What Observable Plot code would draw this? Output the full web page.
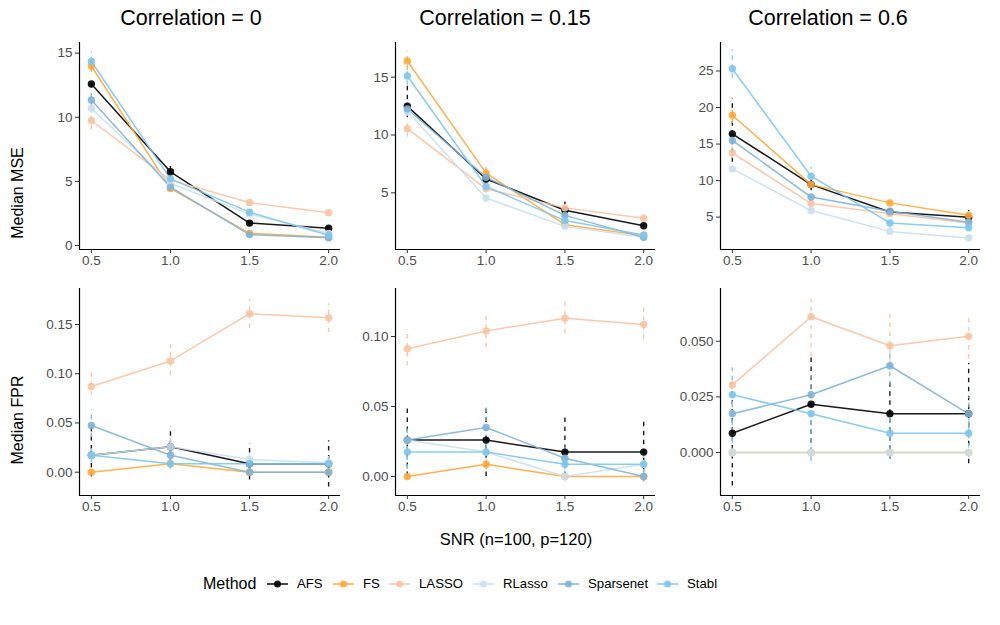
<!DOCTYPE html>
<html>
<head>
<meta charset="utf-8">
<script src="https://cdn.jsdelivr.net/npm/d3@7"></script>
<script src="https://cdn.jsdelivr.net/npm/@observablehq/plot@0.6"></script>
<style>
  html, body { margin: 0; padding: 0; background: #fff; }
  #root { position: relative; width: 1000px; height: 625px; overflow: hidden; background: #fff;
          font-family: "Liberation Sans", Arial, Helvetica, sans-serif; color: #000; }
  .abs { position: absolute; }
  .title { font-size: 21.5px; line-height: 1; white-space: nowrap; transform: translateX(-50%); }
  .ytitle { font-size: 16px; line-height: 1; white-space: nowrap; transform: translate(-50%, -50%) rotate(-90deg); }
  .xtitle { font-size: 16.5px; line-height: 1; white-space: nowrap; transform: translate(-50%, -50%); }
  .lgtext { font-size: 13.2px; line-height: 1; white-space: nowrap; transform: translateY(-50%); }
  .lgtitle { font-size: 16px; line-height: 1; white-space: nowrap; transform: translateY(-50%); }
</style>
</head>
<body>
<div id="root"></div>
<script>
// ---------------- data ----------------
const methods = ["AFS", "FS", "LASSO", "RLasso", "Sparsenet", "Stabl"];
const methodColors = ["#000000", "#FFA83A", "#F8C3A3", "#C9E0EE", "#80B4D7", "#7CC6EC"];
const snr = [0.5, 1.0, 1.5, 2.0];
const correlations = ["0", "0.15", "0.6"];
const metrics = ["Median MSE", "Median FPR"];

// MSE, correlation = 0 (rows follow `methods`, columns follow `snr`)
const mse_c0_med = [[12.6, 5.75, 1.75, 1.35], [14.0, 4.45, 0.95, 0.65], [9.75, 5.1, 3.35, 2.55],
                    [10.7, 4.85, 2.45, 0.95], [11.35, 4.55, 0.85, 0.6], [14.35, 5.2, 2.6, 0.8]];
const mse_c0_lo  = [[12.3, 5.1, 1.5, 1.1], [13.5, 4.3, 0.8, 0.5], [9.0, 4.9, 3.2, 2.4],
                    [10.3, 4.6, 2.3, 0.8], [10.8, 4.4, 0.7, 0.5], [13.6, 4.9, 2.4, 0.6]];
const mse_c0_hi  = [[13.0, 6.5, 2.0, 1.6], [14.5, 4.7, 1.1, 0.8], [10.3, 5.3, 3.5, 2.7],
                    [11.2, 5.1, 2.6, 1.1], [12.0, 4.8, 1.0, 0.7], [15.1, 5.6, 2.8, 1.0]];
// MSE, correlation = 0.15
const mse_c15_med = [[12.5, 6.2, 3.5, 2.15], [16.4, 6.7, 2.25, 1.3], [10.55, 5.35, 3.7, 2.8],
                     [12.05, 4.55, 2.1, 1.15], [12.25, 6.35, 3.05, 1.15], [15.1, 5.55, 2.6, 1.35]];
const mse_c15_lo  = [[11.5, 5.8, 3.2, 1.9], [15.6, 6.1, 2.0, 1.1], [9.8, 5.1, 3.5, 2.6],
                     [11.6, 4.3, 1.9, 1.0], [11.6, 5.9, 2.7, 1.0], [14.3, 5.2, 2.3, 1.2]];
const mse_c15_hi  = [[14.6, 6.6, 4.2, 2.6], [17.2, 7.2, 2.5, 1.5], [11.0, 5.6, 3.9, 3.0],
                     [12.5, 4.8, 2.3, 1.3], [13.0, 6.8, 3.3, 1.4], [15.9, 5.9, 2.9, 1.6]];
// MSE, correlation = 0.6
const mse_c6_med = [[16.4, 9.45, 5.7, 5.0], [18.95, 9.45, 6.95, 5.25], [13.8, 6.85, 5.45, 4.2],
                    [11.6, 5.9, 3.05, 2.15], [15.5, 7.75, 5.8, 4.3], [25.3, 10.6, 4.2, 3.55]];
const mse_c6_lo  = [[12.5, 8.6, 5.2, 4.5], [17.8, 9.0, 6.6, 4.9], [13.0, 6.5, 5.1, 3.9],
                    [11.1, 5.6, 2.8, 1.9], [14.8, 7.3, 5.4, 4.0], [24.0, 9.1, 3.7, 3.2]];
const mse_c6_hi  = [[21.2, 10.0, 6.1, 5.9], [20.0, 9.9, 7.3, 5.6], [14.6, 7.2, 5.8, 4.5],
                    [12.1, 6.2, 3.3, 2.4], [16.2, 8.2, 6.2, 4.6], [27.9, 11.8, 4.7, 3.9]];
// FPR, correlation = 0
const fpr_c0_med = [[0.0172, 0.0259, 0.0086, 0.0086], [0, 0.0086, 0, 0], [0.087, 0.113, 0.161, 0.157],
                    [0.0172, 0.0259, 0.0129, 0.0095], [0.0474, 0.0172, 0, 0], [0.0172, 0.0086, 0.0086, 0.0086]];
const fpr_c0_lo  = [[-0.005, 0.009, -0.008, -0.015], [0, 0.005, 0, 0], [0.078, 0.098, 0.146, 0.142],
                    [0.01, 0.02, 0.005, 0.003], [0.035, 0.01, -0.003, -0.003], [0.01, 0.003, 0.002, 0.002]];
const fpr_c0_hi  = [[0.046, 0.046, 0.029, 0.032], [0.003, 0.012, 0.003, 0.003], [0.105, 0.129, 0.176, 0.171],
                    [0.025, 0.035, 0.02, 0.016], [0.063, 0.025, 0.004, 0.004], [0.028, 0.015, 0.015, 0.015]];
// FPR, correlation = 0.15
const fpr_c15_med = [[0.026, 0.026, 0.0174, 0.0174], [0, 0.0087, 0, 0], [0.0912, 0.104, 0.113, 0.1086],
                     [0.026, 0.0174, 0, 0.0087], [0.026, 0.035, 0.013, 0], [0.0174, 0.0174, 0.0087, 0.0087]];
const fpr_c15_lo  = [[0.0, 0.0, 0.0, -0.003], [-0.002, 0.005, -0.002, -0.002], [0.079, 0.092, 0.102, 0.098],
                     [0.018, 0.01, -0.004, 0.002], [0.005, 0.02, 0.005, -0.004], [0.005, 0.008, 0.0, 0.0]];
const fpr_c15_hi  = [[0.05, 0.05, 0.042, 0.04], [0.003, 0.012, 0.003, 0.003], [0.105, 0.116, 0.127, 0.12],
                     [0.033, 0.025, 0.005, 0.015], [0.037, 0.051, 0.022, 0.005], [0.03, 0.028, 0.02, 0.018]];
// FPR, correlation = 0.6
const fpr_c6_med = [[0.0087, 0.0217, 0.0174, 0.0174], [0, 0, 0, 0], [0.0304, 0.061, 0.048, 0.0522],
                    [0, 0, 0, 0], [0.0174, 0.026, 0.039, 0.0174], [0.026, 0.0174, 0.0087, 0.0087]];
const fpr_c6_lo  = [[-0.015, 0.0, -0.003, -0.005], [-0.002, -0.002, -0.002, -0.002], [0.02, 0.043, 0.04, 0.042],
                    [-0.002, -0.003, -0.002, -0.002], [0.005, 0.012, 0.03, 0.008], [0.0, -0.004, -0.003, -0.002]];
const fpr_c6_hi  = [[0.033, 0.0435, 0.032, 0.04], [0.002, 0.002, 0.002, 0.002], [0.038, 0.069, 0.062, 0.062],
                    [0.002, 0.003, 0.002, 0.002], [0.028, 0.035, 0.048, 0.025], [0.038, 0.025, 0.017, 0.015]];

// y tick labels per panel
const ticks_mse_c0 = [0, 5, 10, 15];
const ticks_mse_c15 = [5, 10, 15];
const ticks_mse_c6 = [5, 10, 15, 20, 25];
const ticks_fpr_c0 = [0, 0.05, 0.10, 0.15];
const ticks_fpr_c15 = [0, 0.05, 0.10];
const ticks_fpr_c6 = [0, 0.025, 0.050];

// ---------------- layout ----------------
const panels = [
  {med: mse_c0_med,  lo: mse_c0_lo,  hi: mse_c0_hi,  ticks: ticks_mse_c0,  fmt: "d",   dom: [-0.31, 15.83], x0: 79,  y0: 42,  w: 261},
  {med: mse_c15_med, lo: mse_c15_lo, hi: mse_c15_hi, ticks: ticks_mse_c15, fmt: "d",   dom: [0.1, 18.0],    x0: 395, y0: 42,  w: 260},
  {med: mse_c6_med,  lo: mse_c6_lo,  hi: mse_c6_hi,  ticks: ticks_mse_c6,  fmt: "d",   dom: [0.57, 28.9],   x0: 720, y0: 42,  w: 260},
  {med: fpr_c0_med,  lo: fpr_c0_lo,  hi: fpr_c0_hi,  ticks: ticks_fpr_c0,  fmt: ".2f", dom: [-0.0237, 0.1866], x0: 79,  y0: 288, w: 261},
  {med: fpr_c15_med, lo: fpr_c15_lo, hi: fpr_c15_hi, ticks: ticks_fpr_c15, fmt: ".2f", dom: [-0.0136, 0.1343], x0: 395, y0: 288, w: 260},
  {med: fpr_c6_med,  lo: fpr_c6_lo,  hi: fpr_c6_hi,  ticks: ticks_fpr_c6,  fmt: ".3f", dom: [-0.0193, 0.0737], x0: 720, y0: 288, w: 260},
];
const panelH = 207;
const xDomain = [0.425, 2.075];
const mL = 50, mR = 6, mT = 6, mB = 30;

const root = document.getElementById("root");

panels.forEach(p => {
  const rows = [];
  methods.forEach((m, i) => {
    snr.forEach((s, j) => {
      rows.push({method: m, snr: s, y: p.med[i][j], lo: p.lo[i][j], hi: p.hi[i][j]});
    });
  });
  const chart = Plot.plot({
    width: mL + p.w + mR,
    height: mT + panelH + mB,
    marginLeft: mL, marginRight: mR, marginTop: mT, marginBottom: mB,
    style: {fontFamily: '"Liberation Sans", Arial, sans-serif', fontSize: "13.5px", color: "#4d4d4d", background: "transparent", overflow: "visible"},
    x: {domain: xDomain},
    y: {domain: p.dom},
    color: {domain: methods, range: methodColors},
    marks: [
      Plot.ruleX(rows, {x: "snr", y1: "lo", y2: "hi", stroke: "method", strokeWidth: 1.4, strokeDasharray: "4.5,4.5", strokeOpacity: 0.9}),
      Plot.line(rows, {x: "snr", y: "y", z: "method", stroke: "method", strokeWidth: 1.5, strokeOpacity: 0.9}),
      Plot.dot(rows, {x: "snr", y: "y", fill: "method", r: 3.7, fillOpacity: 0.9}),
      Plot.ruleX([xDomain[0]], {stroke: "#000", strokeWidth: 1.2}),
      Plot.ruleY([p.dom[0]], {stroke: "#000", strokeWidth: 1.2}),
      Plot.axisX({ticks: snr, tickFormat: d3.format(".1f"), tickSize: 4, tickPadding: 2, stroke: "#333", fill: "#4d4d4d", fontSize: 13.5, label: null}),
      Plot.axisY({ticks: p.ticks, tickFormat: d3.format(p.fmt), tickSize: 4, tickPadding: 3, stroke: "#333", fill: "#4d4d4d", fontSize: 13.5, label: null})
    ]
  });
  chart.classList.add("abs");
  chart.style.left = (p.x0 - mL) + "px";
  chart.style.top = (p.y0 - mT) + "px";
  root.appendChild(chart);
});

// titles
const titleX = [191, 505, 828];
correlations.forEach((c, k) => {
  const d = document.createElement("div");
  d.className = "abs title";
  d.style.left = titleX[k] + "px";
  d.style.top = "8px";
  d.textContent = "Correlation = " + c;
  root.appendChild(d);
});

// y axis titles
const yTitleY = [193, 420];
metrics.forEach((m, k) => {
  const d = document.createElement("div");
  d.className = "abs ytitle";
  d.style.left = "18px";
  d.style.top = yTitleY[k] + "px";
  d.textContent = m;
  root.appendChild(d);
});

// x axis title
const xt = document.createElement("div");
xt.className = "abs xtitle";
xt.style.left = "516px";
xt.style.top = "539px";
xt.textContent = "SNR (n=100, p=120)";
root.appendChild(xt);

// legend (below the panels)
const legendY = 584;
const lgt = document.createElement("div");
lgt.className = "abs lgtitle";
lgt.style.left = "203px";
lgt.style.top = legendY + "px";
lgt.textContent = "Method";
root.appendChild(lgt);
const keyX = [267, 333, 389, 473, 558, 657];
methods.forEach((m, i) => {
  const sw = document.createElement("div");
  sw.className = "abs";
  sw.style.left = keyX[i] + "px";
  sw.style.top = (legendY - 6) + "px";
  sw.innerHTML = `<svg width="21" height="12" style="display:block"><line x1="0" x2="21" y1="6" y2="6" stroke="${methodColors[i]}" stroke-width="1.6" stroke-opacity="0.9"/><circle cx="10.5" cy="6" r="3.5" fill="${methodColors[i]}" fill-opacity="0.9"/></svg>`;
  root.appendChild(sw);
  const t = document.createElement("div");
  t.className = "abs lgtext";
  t.style.left = (keyX[i] + 30) + "px";
  t.style.top = legendY + "px";
  t.textContent = m;
  root.appendChild(t);
});
</script>
</body>
</html>
